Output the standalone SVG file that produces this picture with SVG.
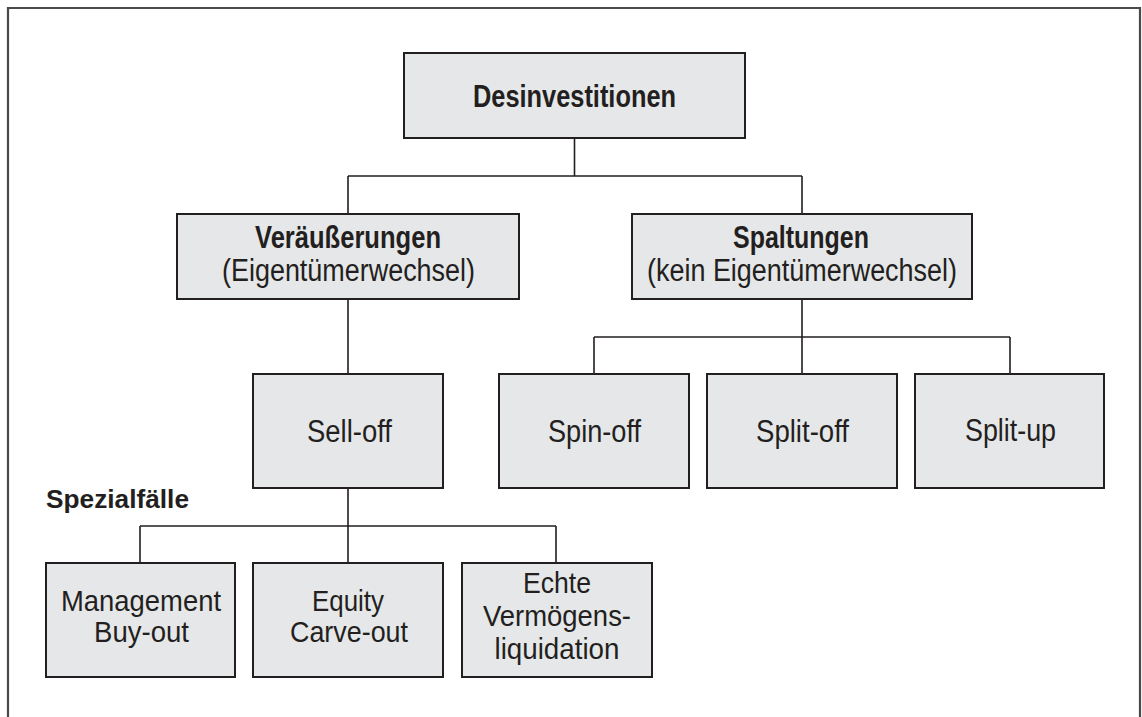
<svg xmlns="http://www.w3.org/2000/svg" width="1142" height="717" viewBox="0 0 1142 717">
<style>
.box{fill:#e6e7e8;stroke:#231f20;stroke-width:2}
.ln{fill:none;stroke:#231f20;stroke-width:1.6}
.frame{fill:none;stroke:#4a4a4a;stroke-width:2.2}
text{font-family:"Liberation Sans",Arial,sans-serif;fill:#231f20;text-anchor:middle}
.b{font-weight:bold}
.t{font-size:31px}
.s{font-size:30px}
</style>
<rect width="1142" height="717" fill="#ffffff"/>
<path class="frame" d="M8,717 V8 H1140 V717"/>
<g id="connectors">
<path class="ln" d="M574.5,138 V176 M348,176 H802 M348,176 V214 M802,176 V214"/>
<path class="ln" d="M348,299 V374"/>
<path class="ln" d="M802,299 V374 M594,337 H1010 M594,337 V374 M1010,337 V374"/>
<path class="ln" d="M348,488 V563 M140,526 H556 M140,526 V563 M556,526 V563"/>
</g>
<g id="desinvestitionen">
<rect class="box" x="404" y="53" width="341" height="85"/>
<text class="t b" x="574.5" y="107" textLength="203" lengthAdjust="spacingAndGlyphs">Desinvestitionen</text>
</g>
<g id="veraeusserungen">
<rect class="box" x="177" y="214" width="342" height="85"/>
<text class="t b" x="348" y="248" textLength="186" lengthAdjust="spacingAndGlyphs">Veräußerungen</text>
<text class="t" x="348.5" y="281" textLength="253" lengthAdjust="spacingAndGlyphs">(Eigentümerwechsel)</text>
</g>
<g id="spaltungen">
<rect class="box" x="632" y="214" width="340" height="85"/>
<text class="t b" x="801" y="248" textLength="136" lengthAdjust="spacingAndGlyphs">Spaltungen</text>
<text class="t" x="802" y="281" textLength="310" lengthAdjust="spacingAndGlyphs">(kein Eigentümerwechsel)</text>
</g>
<g id="selloff">
<rect class="box" x="253" y="374" width="190" height="114"/>
<text class="t" x="349.5" y="442" textLength="85" lengthAdjust="spacingAndGlyphs">Sell-off</text>
</g>
<g id="spinoff">
<rect class="box" x="499" y="374" width="190" height="114"/>
<text class="t" x="594.5" y="442" textLength="93" lengthAdjust="spacingAndGlyphs">Spin-off</text>
</g>
<g id="splitoff">
<rect class="box" x="707" y="374" width="190" height="114"/>
<text class="t" x="802.5" y="442" textLength="93" lengthAdjust="spacingAndGlyphs">Split-off</text>
</g>
<g id="splitup">
<rect class="box" x="915" y="374" width="189" height="114"/>
<text class="t" x="1010.5" y="441" textLength="91" lengthAdjust="spacingAndGlyphs">Split-up</text>
</g>
<g id="spezialfaelle">
<text class="b" x="46" y="508" style="font-size:26px;text-anchor:start" textLength="143" lengthAdjust="spacingAndGlyphs">Spezialfälle</text>
</g>
<g id="mbo">
<rect class="box" x="46" y="563" width="189" height="114"/>
<text class="s" x="141" y="611" textLength="160" lengthAdjust="spacingAndGlyphs">Management</text>
<text class="s" x="141.5" y="642" textLength="95" lengthAdjust="spacingAndGlyphs">Buy-out</text>
</g>
<g id="carveout">
<rect class="box" x="253" y="563" width="190" height="114"/>
<text class="s" x="348" y="611" textLength="72" lengthAdjust="spacingAndGlyphs">Equity</text>
<text class="s" x="349" y="642" textLength="118" lengthAdjust="spacingAndGlyphs">Carve-out</text>
</g>
<g id="liquidation">
<rect class="box" x="462" y="563" width="190" height="114"/>
<text class="s" x="557" y="593" textLength="68" lengthAdjust="spacingAndGlyphs">Echte</text>
<text class="s" x="557" y="626" textLength="148" lengthAdjust="spacingAndGlyphs">Vermögens-</text>
<text class="s" x="557" y="659" textLength="125" lengthAdjust="spacingAndGlyphs">liquidation</text>
</g>
</svg>
